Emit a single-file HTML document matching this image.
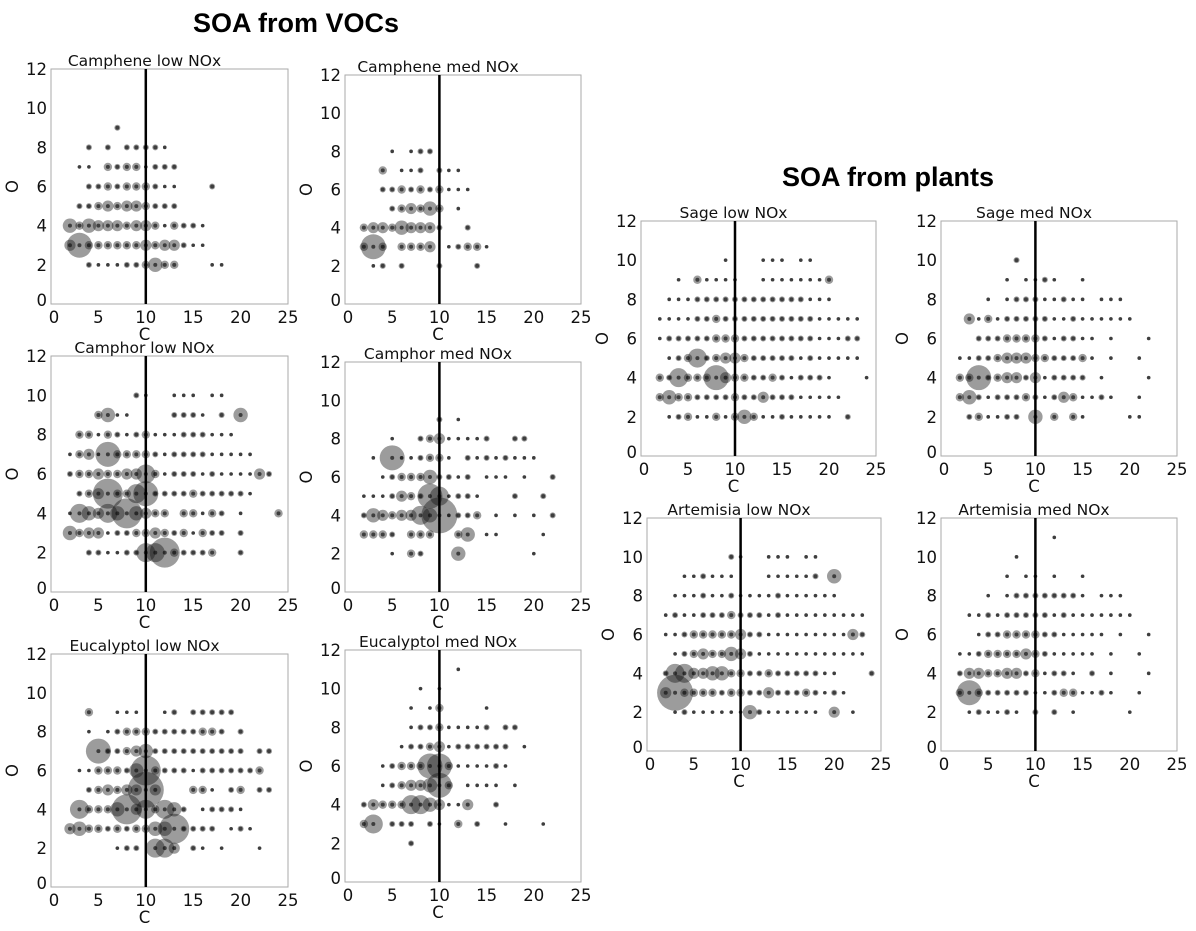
<!DOCTYPE html>
<html><head><meta charset="utf-8">
<style>
body{margin:0;background:#fff;}
svg{display:block;font-family:"DejaVu Sans","Liberation Sans",sans-serif;}
.h{font-family:"Liberation Sans",sans-serif;font-weight:bold;font-size:27px;}
.tk{font-size:16.5px;fill:#111;}
.tt{font-size:15.5px;fill:#111;}
</style></head>
<body>
<svg id="fig" width="1196" height="931" viewBox="0 0 1196 931">
<text class="h" x="296" y="32" text-anchor="middle">SOA from VOCs</text>
<text class="h" x="888" y="186" text-anchor="middle">SOA from plants</text>
</svg>
<script>
const panelTitles=["Camphene low NOx","Camphene med NOx","Camphor low NOx","Camphor med NOx","Eucalyptol low NOx","Eucalyptol med NOx","Sage low NOx","Sage med NOx","Artemisia low NOx","Artemisia med NOx"];
const xTicks=[0,5,10,15,20,25];
const yTicks=[0,2,4,6,8,10,12];
const refC=10;
const camphLow=["9|7:2","8|4:2 6:2 8:2 9:2 10:2 11:2 12:1","7|3:1 4:1 6:3 7:2 8:3 9:3 10:1 11:2 12:2 13:2","6|4:2 5:2 6:3 7:2 8:3 9:3 10:3 11:2 12:1 13:1 17:2","5|3:2 4:2 5:3 6:4 7:3 8:4 9:4 10:3 11:2 12:2 13:2","4|2:5 3:3 4:5 5:4 6:4 7:4 8:3 9:4 10:4 11:3 12:1 13:3 14:2 15:2 16:1","3|2:4 3:7 4:3 5:3 6:3 7:3 8:3 9:3 10:4 11:3 12:4 13:4 14:2 15:1 16:1","2|4:2 5:1 6:1 7:1 8:2 9:2 10:3 11:5 12:3 13:3 17:1 18:1"];
const camphMed=["8|5:1 7:1 8:2 9:2","7|4:3 6:1 7:1 8:2 10:2 11:1 12:1","6|4:2 5:2 6:3 7:2 8:3 9:2 10:3 11:1 12:1 13:1","5|5:2 6:3 7:4 8:3 9:5 10:3 12:1","4|2:3 3:4 4:4 5:3 6:5 7:4 8:4 9:4 10:2 13:2","3|2:3 3:7 4:3 6:3 7:3 8:3 9:4 11:1 12:2 13:3 14:3 15:1","2|3:1 4:2 6:2 10:2 14:2"];
const camphorLow=["10|9:2 10:1 13:1 14:1 15:1 17:1 18:1","9|5:3 6:5 7:1 8:1 13:2 14:2 15:2 16:1 18:2 20:5","8|3:3 4:3 5:1 6:3 7:2 8:1 9:2 10:3 11:1 12:1 13:1 14:2 15:2 16:2 17:1 18:1 19:1","7|2:1 3:3 4:4 5:1 6:7 7:3 8:3 9:3 10:3 11:2 12:1 13:2 14:2 15:2 16:2 17:1 18:1 19:1 20:1 21:1","6|2:2 3:3 4:3 5:4 6:3 7:3 8:4 9:4 10:6 11:3 12:1 13:2 14:2 15:2 16:1 17:2 18:1 19:1 20:1 21:1 22:4 23:2","5|3:2 4:3 5:4 6:8 7:3 8:3 9:6 10:7 11:2 12:2 13:2 14:2 15:3 16:2 17:2 18:2 19:2 20:2 21:1","4|2:1 3:6 4:5 5:4 6:6 7:5 8:8 9:5 10:4 11:3 12:3 14:3 15:3 16:1 17:3 18:2 20:1 24:3","3|2:5 3:3 4:4 5:4 6:1 7:2 8:2 9:3 10:3 11:4 12:3 13:2 14:3 15:1 16:3 17:2 18:2 20:2","2|4:2 5:2 6:1 7:1 8:2 9:2 10:6 11:6 12:8 13:3 14:2 15:2 16:2 17:3 20:2"];
const camphorMed=["9|10:2 12:1","8|5:1 8:2 9:3 10:4 11:1 12:1 13:1 14:1 15:2 18:2 19:2","7|3:1 5:7 6:1 7:1 8:2 9:3 10:3 11:1 13:2 14:1 15:2 16:1 17:2 18:1 19:1 20:1","6|4:1 5:2 6:3 7:3 8:3 9:5 10:2 11:2 12:1 13:2 15:1 16:1 17:1 19:1 22:2","5|2:1 3:1 4:1 5:2 6:4 7:3 8:2 9:7 10:6 11:1 12:2 13:2 14:1 18:2 21:2","4|2:2 3:5 4:4 5:3 6:4 7:4 8:6 9:5 10:9 11:1 12:2 13:2 14:3 16:1 18:1 20:1 22:2","3|2:3 3:3 4:3 5:2 7:3 8:3 9:3 12:3 13:5 15:1 16:1 21:1","2|5:1 7:3 8:2 12:5 20:1"];
const eucLow=["9|4:3 7:1 8:1 9:1 12:1 13:2 15:2 16:2 17:2 18:2 19:2","8|4:1 6:1 7:2 8:3 9:3 10:3 11:2 12:2 13:2 14:2 15:2 16:3 17:3 18:2 20:2","7|5:7 6:2 7:2 8:3 9:4 10:5 11:2 12:2 13:2 14:2 15:2 16:2 17:2 18:2 19:2 20:2 22:2 23:2","6|3:1 4:1 5:3 6:3 7:3 8:2 9:5 10:8 11:3 12:2 13:2 14:2 15:1 16:2 17:2 18:2 19:2 20:2 21:2 22:3","5|4:2 5:3 6:4 7:3 8:4 9:4 10:9 11:4 15:3 16:3 17:1 19:2 20:3 22:2 23:2","4|3:6 4:3 5:3 6:3 7:5 8:8 9:4 10:6 11:3 12:6 13:5 14:2 16:1 17:2 18:2 19:2 20:1","3|2:4 3:5 4:3 5:3 6:2 7:3 8:2 9:3 10:3 11:5 12:5 13:8 14:2 15:2 16:2 17:2 19:1 20:2 21:1","2|7:1 8:2 9:2 11:6 12:6 13:4 15:2 16:1 18:1 22:1"];
const eucMed=["11|12:1","10|8:1 10:1","9|7:1 9:1 10:3 15:1","8|7:1 8:2 9:2 10:3 11:1 12:1 13:1 14:1 15:2 17:2 18:2","7|6:1 7:2 8:2 9:3 10:4 11:1 12:2 13:2 14:2 15:2 16:2 17:2 19:1","6|4:1 5:2 6:3 7:3 8:3 9:7 10:7 11:3 12:1 13:1 14:1 15:1 16:2 17:1","5|4:1 5:2 6:3 7:4 8:4 9:5 10:7 11:3 13:1 14:1 15:1 16:1 18:1","4|2:2 3:4 4:3 5:3 6:3 7:6 8:6 9:5 10:4 11:1 12:1 13:4 16:2","3|2:3 3:6 5:2 6:2 7:2 9:2 10:1 12:3 14:2 17:1 21:1","2|7:2"];
const sageLow=["10|9:1 13:1 14:1 15:1 17:1 18:1","9|4:1 6:3 7:1 8:1 9:1 10:1 13:1 14:1 15:1 16:1 17:1 18:1 19:1 20:3","8|3:1 4:1 5:1 6:2 7:2 8:2 9:2 10:2 11:2 12:2 13:2 14:2 15:2 16:2 17:2 18:1 19:1 20:1","7|2:1 3:1 4:1 5:1 6:2 7:2 8:3 9:2 10:2 11:2 12:2 13:2 14:2 15:2 16:2 17:2 18:2 19:1 20:1 21:1 22:1 23:1","6|2:1 3:2 4:2 5:2 6:2 7:2 8:3 9:3 10:3 11:2 12:2 13:2 14:2 15:2 16:2 17:2 18:2 19:1 20:1 21:1 22:2 23:2","5|3:1 4:2 5:3 6:6 7:2 8:3 9:4 10:4 11:3 12:2 13:2 14:2 15:2 16:2 17:1 18:2 19:1 20:1 21:1 22:1 23:1","4|2:3 3:2 4:6 5:3 6:3 7:3 8:7 9:4 10:3 11:3 12:2 13:2 14:3 15:2 16:1 17:2 18:2 19:2 20:1 24:1","3|2:3 3:5 4:3 5:3 6:2 7:2 8:2 9:2 10:3 11:2 12:2 13:4 14:2 15:2 16:2 17:1 18:1 19:1 20:1 21:1","2|3:1 4:2 5:3 6:1 7:1 8:3 9:1 10:3 11:5 12:3 13:1 14:1 15:2 16:1 17:1 18:1 19:1 20:1 22:2"];
const sageMed=["10|8:2","9|7:1 9:1 10:1 11:2 12:1 15:1","8|5:1 7:1 8:2 9:2 10:2 11:1 12:1 13:2 14:1 15:1 17:1 18:1 19:1","7|3:4 4:1 5:3 6:1 7:2 8:2 9:2 10:2 11:2 12:1 13:1 14:2 15:1 16:1 17:1 18:1 19:1 20:1","6|4:2 5:2 6:2 7:3 8:3 9:3 10:3 11:2 12:1 13:2 14:2 15:1 16:1 18:1 22:1","5|2:1 3:1 4:2 5:2 6:3 7:4 8:4 9:4 10:3 11:3 12:2 13:2 14:2 15:3 16:1 18:1 21:1","4|2:3 3:3 4:7 5:2 6:3 7:4 8:4 9:2 10:4 11:1 12:2 13:2 14:2 15:2 17:1 22:1","3|2:3 3:5 4:2 5:1 6:2 7:2 8:2 9:3 10:2 11:1 12:2 13:4 14:3 15:1 16:1 17:2 18:1 21:1","2|3:2 4:3 5:1 6:1 7:2 8:2 10:5 12:3 14:3 15:1 20:1 21:1"];
const artLow=["10|9:2 10:1 13:1 14:1 15:1 17:1 18:1","9|4:1 5:1 6:2 7:1 8:1 9:1 13:1 14:1 15:1 16:1 17:1 18:2 20:5","8|3:1 4:1 5:1 6:2 7:1 8:1 9:2 10:1 11:1 12:1 13:1 14:2 15:1 16:1 17:1 18:1 19:1 20:1","7|2:1 3:2 4:1 5:1 6:2 7:2 8:2 9:3 10:2 11:2 12:2 13:1 14:2 15:1 16:1 17:1 18:1 19:1 20:1 21:1 22:1 23:1","6|2:1 3:1 4:2 5:3 6:3 7:3 8:3 9:3 10:4 11:2 12:2 13:1 14:1 15:1 16:1 17:1 18:1 19:1 20:1 21:1 22:4 23:2","5|3:1 4:2 5:3 6:4 7:3 8:3 9:5 10:4 11:2 12:1 13:1 14:1 15:1 16:1 17:1 18:1 19:1 20:1 21:1 22:1 23:1","4|2:2 3:6 4:6 5:4 6:4 7:5 8:5 9:3 10:3 11:2 12:2 13:3 14:2 15:2 16:2 17:2 18:2 19:1 20:1 24:2","3|2:4 3:9 4:3 5:3 6:3 7:3 8:2 9:3 10:3 11:2 12:2 13:4 14:2 15:2 16:2 17:3 18:2 19:1 20:2 21:1","2|3:1 4:2 5:1 6:1 7:1 8:1 9:1 10:1 11:5 12:2 13:1 14:1 15:1 16:1 17:1 18:1 20:4 22:1"];
const artMed=["11|12:1","10|8:1","9|7:1 9:1 10:1 12:1 15:1","8|5:1 7:1 8:2 9:2 10:2 11:2 12:2 13:2 14:2 15:1 17:1 18:1 19:1","7|3:1 4:1 5:2 6:1 7:2 8:2 9:2 10:2 11:2 12:1 13:2 14:1 15:1 16:1 17:1 18:1 19:1 20:1","6|4:1 5:2 6:2 7:3 8:3 9:3 10:3 11:2 12:2 13:1 14:1 15:1 16:1 17:1 19:1 22:1","5|2:1 3:1 4:2 5:3 6:3 7:3 8:3 9:4 10:3 11:2 12:1 13:1 14:1 15:1 16:1 18:1 21:1","4|2:2 3:4 4:4 5:3 6:3 7:4 8:4 9:2 10:3 11:1 12:2 13:2 14:1 16:2 18:1 22:1","3|2:3 3:7 4:3 5:2 6:2 7:2 8:2 9:2 10:1 11:1 12:2 13:3 14:3 15:1 16:1 17:2 18:1 21:1","2|3:1 4:2 5:1 6:1 7:2 8:1 10:2 12:2 14:1 20:1"];
const panelData=[camphLow,camphMed,camphorLow,camphorMed,eucLow,eucMed,sageLow,sageMed,artLow,artMed];

const geom=[[51,288,69,304],[345,581,75,304],[51,288,356,592],[345,581,362,592],[51,288,654,887],[345,581,650,882],[641,876,221,456],[941,1177,221,456],[647,881,518,751],[941,1177,518,751]];
const radii=[0,1.8,3,4.2,5.6,7.2,9.5,12.5,15,18];
const NS="http://www.w3.org/2000/svg";
const svg=document.getElementById('fig');
function mk(tag,attrs,parent){const e=document.createElementNS(NS,tag);for(const k in attrs)e.setAttribute(k,attrs[k]);parent.appendChild(e);return e;}
panelData.forEach((rows,i)=>{
  const [x0,x1,yt,yb]=geom[i];
  const sx=c=>x0+(x1-x0)*c/25;
  const sy=o=>yb-(yb-yt)*o/12;
  const g=mk('g',{},svg);
  
  
  const box=mk('rect',{x:x0,y:yt,width:x1-x0,height:yb-yt,fill:'#fff',stroke:'#aaa','stroke-width':1},g);
  
  
  const pts=mk('g',{},g);
  
  
  rows.forEach(r=>{
    const [oS,rest]=r.split('|');const o=+oS;
    rest.split(' ').forEach(p=>{
      const [cS,sS]=p.split(':');const c=+cS,s=+sS;const rad=radii[s];
      const dot=mk('circle',{cx:sx(c),cy:sy(o),r:rad,fill:'rgba(20,20,20,0.42)'},pts);
      
      
      mk('circle',{cx:sx(c),cy:sy(o),r:Math.min(rad,2),fill:'rgba(0,0,0,0.6)'},pts);
    });
  });
  const vl=mk('line',{x1:sx(refC),x2:sx(refC),y1:yt,y2:yb,stroke:'#000','stroke-width':2.5},g);
  
  
  xTicks.forEach(t=>{
    const tx=mk('text',{x:sx(t)+(t===0?3:0),y:yb+19,'text-anchor':'middle',class:'tk'},g);
    tx.textContent=t;
    
    
  });
  yTicks.forEach(t=>{
    const ty=mk('text',{x:x0-4,y:sy(t)+(t===0?2:6),'text-anchor':'end',class:'tk'},g);
    ty.textContent=t;
    
    
  });
  const xl=mk('text',{x:(x0+x1)/2-25,y:yb+36,'text-anchor':'middle',class:'tk'},g);
  xl.textContent='C';
  
  
  const yl=mk('text',{x:0,y:0,'text-anchor':'middle',class:'tk',transform:`translate(${x0-33},${(yt+yb)/2}) rotate(-90)`},g);
  yl.textContent='O';
  
  
  const tt=mk('text',{x:(x0+x1)/2-25,y:yt-3,'text-anchor':'middle',class:'tt'},g);
  tt.textContent=panelTitles[i];
  
  
});
</script>
</body></html>
